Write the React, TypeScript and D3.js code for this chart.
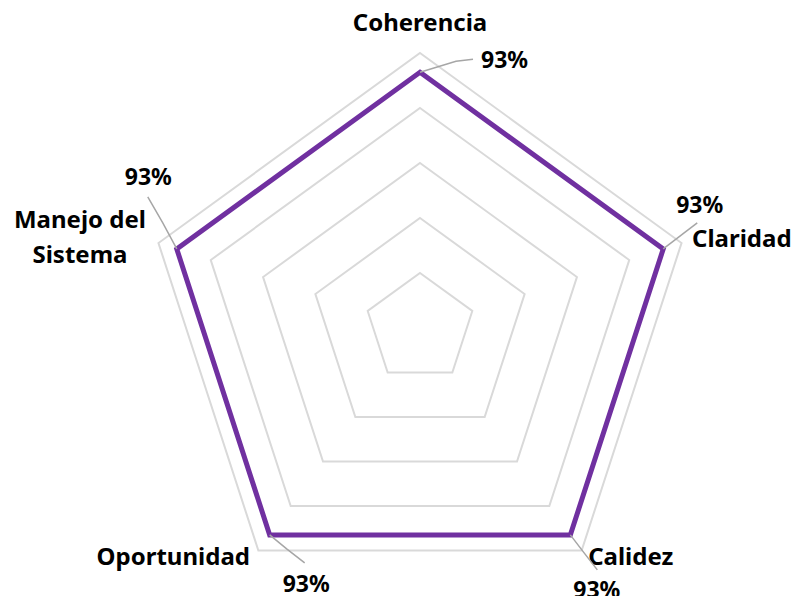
import React from "react";
import * as d3 from "d3";

const categories = ["Coherencia", "Claridad", "Calidez", "Oportunidad", "Manejo del Sistema"];
const values = [0.93, 0.93, 0.93, 0.93, 0.93];
const ringLevels = [0.2, 0.4, 0.6, 0.8, 1.0];
const valueLabels = ["93%", "93%", "93%", "93%", "93%"];

// layout for the labels (offsets in px)
const catLayout = [
  { dx: 0, dy: -22, anchor: "middle", lines: ["Coherencia"] },
  { dx: 10.5, dy: 4, anchor: "start", lines: ["Claridad"] },
  { dx: 6.5, dy: 14.5, anchor: "start", lines: ["Calidez"] },
  { dx: -8.4, dy: 14.5, anchor: "end", lines: ["Oportunidad"] },
  { dx: -78.5, dy: -15, anchor: "middle", lines: ["Manejo del", "Sistema"] },
];
const valLayout = [
  { tx: 61, ty: -4, lx: 53, ly: -13, mx: 36, my: -11 },
  { tx: 13, ty: -36, lx: 34, ly: -26, mx: 17, my: -13 },
  { tx: 3, ty: 63, lx: 27, ly: 35, mx: 13, my: 17 },
  { tx: 13, ty: 57, lx: 35, ly: 28, mx: 17, my: 14 },
  { tx: -52, ty: -64, lx: -29, ly: -52, mx: -14, my: -26 },
];

const W = 792;
const H = 596;
const cx = 420;
const cy = 328;
const R = 275;

export default function App() {
  const n = categories.length;
  const angle = d3.scaleLinear().domain([0, n]).range([0, 2 * Math.PI]);
  const r = d3.scaleLinear().domain([0, 1]).range([0, R]);
  const radial = d3
    .lineRadial<number>()
    .angle((_, i) => angle(i))
    .radius((d) => r(d))
    .curve(d3.curveLinearClosed);
  const pt = (i: number, v: number) => {
    const a = angle(i);
    return [cx + r(v) * Math.sin(a), cy - r(v) * Math.cos(a)];
  };
  const font = "'Noto Sans', sans-serif";

  return (
    <svg
      width={W}
      height={H}
      style={{ position: "absolute", left: 0, top: 0, background: "#fff" }}
    >
      <g transform={`translate(${cx},${cy})`}>
        {ringLevels.map((lv) => (
          <path
            key={lv}
            d={radial(categories.map(() => lv)) || ""}
            fill="none"
            stroke="#d9d9d9"
            strokeWidth={2}
          />
        ))}
        <path
          d={radial(values) || ""}
          fill="none"
          stroke="#7030a0"
          strokeWidth={5}
          strokeLinejoin="miter"
        />
      </g>
      {categories.map((c, i) => {
        const [x, y] = pt(i, 1);
        const L = catLayout[i];
        return (
          <text
            key={c}
            x={x + L.dx}
            y={y + L.dy}
            textAnchor={L.anchor as any}
            fontFamily={font}
            fontWeight={700}
            fontSize={24}
            fill="#000"
          >
            {L.lines.map((ln, k) => (
              <tspan key={k} x={x + L.dx} dy={k === 0 ? 0 : 35}>
                {ln}
              </tspan>
            ))}
          </text>
        );
      })}
      {values.map((v, i) => {
        const [x, y] = pt(i, v);
        const L = valLayout[i];
        return (
          <g key={i}>
            <polyline
              points={`${x},${y} ${x + L.mx},${y + L.my} ${x + L.lx},${y + L.ly}`}
              fill="none"
              stroke="#a6a6a6"
              strokeWidth={1.5}
            />
            <text
              x={x + L.tx}
              y={y + L.ty}
              fontFamily={font}
              fontWeight={700}
              fontSize={23}
              fill="#000"
            >
              {valueLabels[i]}
            </text>
          </g>
        );
      })}
    </svg>
  );
}
